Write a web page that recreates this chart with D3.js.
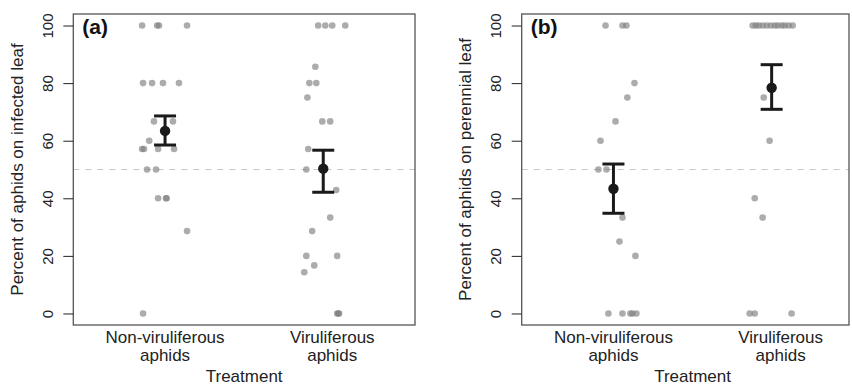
<!DOCTYPE html>
<html>
<head>
<meta charset="utf-8">
<script src="https://cdn.jsdelivr.net/npm/d3@7"></script>
<style>
  body { margin: 0; background: #fff; }
  svg { display: block; font-family: "Liberation Sans", Arial, sans-serif; }
</style>
</head>
<body>
<svg id="chart" width="852" height="387"></svg>
<script>
// categories and labels
const groups = ['Non-viruliferous', 'Viruliferous'];
const groupLines = [['Non-viruliferous', 'aphids'], ['Viruliferous', 'aphids']];
const yTicks = [0, 20, 40, 60, 80, 100];
const panelTags = ['(a)', '(b)'];
const yTitles = ['Percent of aphids on infected leaf', 'Percent of aphids on perennial leaf'];

const aNonVal = [100, 100, 100, 100, 80, 80, 80, 80, 66.7, 66.7, 60, 57.1, 57.1, 57.1, 57.1, 50, 50, 40, 40, 40, 28.6, 0];
const aNonJit = [-0.145, -0.05, -0.038, 0.139, -0.139, -0.082, -0.013, 0.088, -0.07, 0.05, -0.1, -0.145, -0.133, -0.044, 0.057, -0.114, -0.057, -0.044, 0.006, 0.01, 0.139, -0.139];
const aVirVal = [100, 100, 100, 100, 85.7, 80, 80, 75, 66.7, 66.7, 57.1, 50, 50, 42.9, 33.3, 28.6, 20, 20, 16.7, 14.3, 0, 0, 0];
const aVirJit = [-0.032, 0.013, 0.057, 0.139, -0.05, -0.088, -0.044, -0.1, -0.006, 0.044, -0.095, -0.107, 0, 0.082, 0.044, -0.07, -0.107, 0.088, -0.057, -0.12, 0.088, 0.1, 0.095];

// panel (b)
const bNonVal = [100, 100, 100, 80, 75, 66.7, 60, 50, 50, 33.3, 25, 20, 0, 0, 0, 0, 0];
const bNonJit = [-0.05, 0.057, 0.082, 0.133, 0.088, 0.013, -0.082, -0.095, -0.044, 0.057, 0.038, 0.139, -0.032, 0.057, 0.107, 0.12, 0.145];
const bVirVal = [100, 100, 100, 100, 100, 100, 100, 100, 100, 100, 100, 100, 75, 60, 40, 33.3, 0, 0, 0];
const bVirJit = [-0.12, -0.1, -0.082, -0.057, -0.032, -0.006, 0.019, 0.038, 0.063, 0.082, 0.107, 0.133, -0.05, -0.013, -0.107, -0.057, -0.139, -0.107, 0.126];

// means and error bar limits per panel
const aMean = [63.4, 50.3];
const aLow = [58.5, 42.1];
const aHigh = [68.6, 56.7];
const bMean = [43.3, 78.4];
const bLow = [34.8, 70.9];
const bHigh = [51.9, 86.4];

const panels = [
  { left: 73.3, right: 415, vals: [aNonVal, aVirVal], jit: [aNonJit, aVirJit], mean: aMean, lo: aLow, hi: aHigh },
  { left: 521.7, right: 849, vals: [bNonVal, bVirVal], jit: [bNonJit, bVirJit], mean: bMean, lo: bLow, hi: bHigh },
];

const svg = d3.select('#chart');
const plotTop = 14;
const plotBottom = 325;
const y = d3.scaleLinear().domain([-4, 104]).range([plotBottom, plotTop]);
const fs = 17;

panels.forEach((p, pi) => {
  const g = svg.append('g');
  const x = d3.scaleLinear().domain([0.42, 2.58]).range([p.left, p.left + 341.7]);

  // reference line at 50 %
  g.append('line')
    .attr('x1', p.left).attr('x2', p.right)
    .attr('y1', y(50)).attr('y2', y(50))
    .attr('stroke', '#c8c8c8')
    .attr('stroke-width', 1.2)
    .attr('stroke-dasharray', '6,6');

  // jittered raw points
  groups.forEach((grp, gi) => {
    g.append('g').selectAll('circle')
      .data(p.vals[gi].map((v, i) => ({ v, j: p.jit[gi][i] })))
      .join('circle')
      .attr('cx', d => x(gi + 1 + d.j))
      .attr('cy', d => y(d.v))
      .attr('r', 3.3)
      .attr('fill', '#808080')
      .attr('fill-opacity', 0.65);
  });

  // mean +/- error bars
  const eb = g.append('g').selectAll('g')
    .data(groups.map((grp, gi) => ({ gi, m: p.mean[gi], lo: p.lo[gi], hi: p.hi[gi] })))
    .join('g')
    .attr('stroke', '#1a1a1a')
    .attr('stroke-width', 3);
  eb.append('line')
    .attr('x1', d => x(d.gi + 1)).attr('x2', d => x(d.gi + 1))
    .attr('y1', d => y(d.lo)).attr('y2', d => y(d.hi));
  eb.append('line')
    .attr('x1', d => x(d.gi + 1) - 11).attr('x2', d => x(d.gi + 1) + 11)
    .attr('y1', d => y(d.hi)).attr('y2', d => y(d.hi));
  eb.append('line')
    .attr('x1', d => x(d.gi + 1) - 11).attr('x2', d => x(d.gi + 1) + 11)
    .attr('y1', d => y(d.lo)).attr('y2', d => y(d.lo));
  eb.append('circle')
    .attr('cx', d => x(d.gi + 1)).attr('cy', d => y(d.m))
    .attr('r', 5.2)
    .attr('fill', '#1a1a1a')
    .attr('stroke', 'none');

  // box
  g.append('rect')
    .attr('x', p.left).attr('y', plotTop)
    .attr('width', p.right - p.left).attr('height', plotBottom - plotTop)
    .attr('fill', 'none')
    .attr('stroke', '#555')
    .attr('stroke-width', 1.3);

  // y axis, R style with rotated labels
  const yAxis = g.append('g')
    .attr('transform', `translate(${p.left},0)`)
    .call(d3.axisLeft(y).tickValues(yTicks).tickSize(10).tickFormat(d3.format('d')));
  yAxis.select('.domain').remove();
  yAxis.selectAll('.tick line').attr('stroke', '#222');
  yAxis.selectAll('.tick text')
    .attr('font-size', 15)
    .attr('fill', '#222')
    .attr('x', null).attr('dy', null)
    .attr('text-anchor', 'middle')
    .attr('transform', 'translate(-26,0) rotate(-90)')
    .attr('dominant-baseline', 'central');

  // category labels (two lines)
  groupLines.forEach((lines, gi) => {
    const t = g.append('text')
      .attr('text-anchor', 'middle')
      .attr('font-size', fs)
      .attr('fill', '#222');
    lines.forEach((ln, li) => {
      t.append('tspan')
        .attr('x', x(gi + 1) + gi * 9)
        .attr('y', 343 + li * 18)
        .text(ln);
    });
  });

  g.append('text')
    .attr('x', (p.left + p.left + 341.7) / 2)
    .attr('y', 382)
    .attr('text-anchor', 'middle')
    .attr('font-size', fs)
    .attr('fill', '#222')
    .text('Treatment');

  g.append('text')
    .attr('transform', `translate(${p.left - 56},${(plotTop + plotBottom) / 2}) rotate(-90)`)
    .attr('text-anchor', 'middle')
    .attr('dominant-baseline', 'central')
    .attr('font-size', fs)
    .attr('fill', '#222')
    .text(yTitles[pi]);

  g.append('text')
    .attr('x', p.left + 9)
    .attr('y', 34)
    .attr('font-size', 21)
    .attr('font-weight', 'bold')
    .attr('fill', '#111')
    .text(panelTags[pi]);
});
</script>
</body>
</html>
